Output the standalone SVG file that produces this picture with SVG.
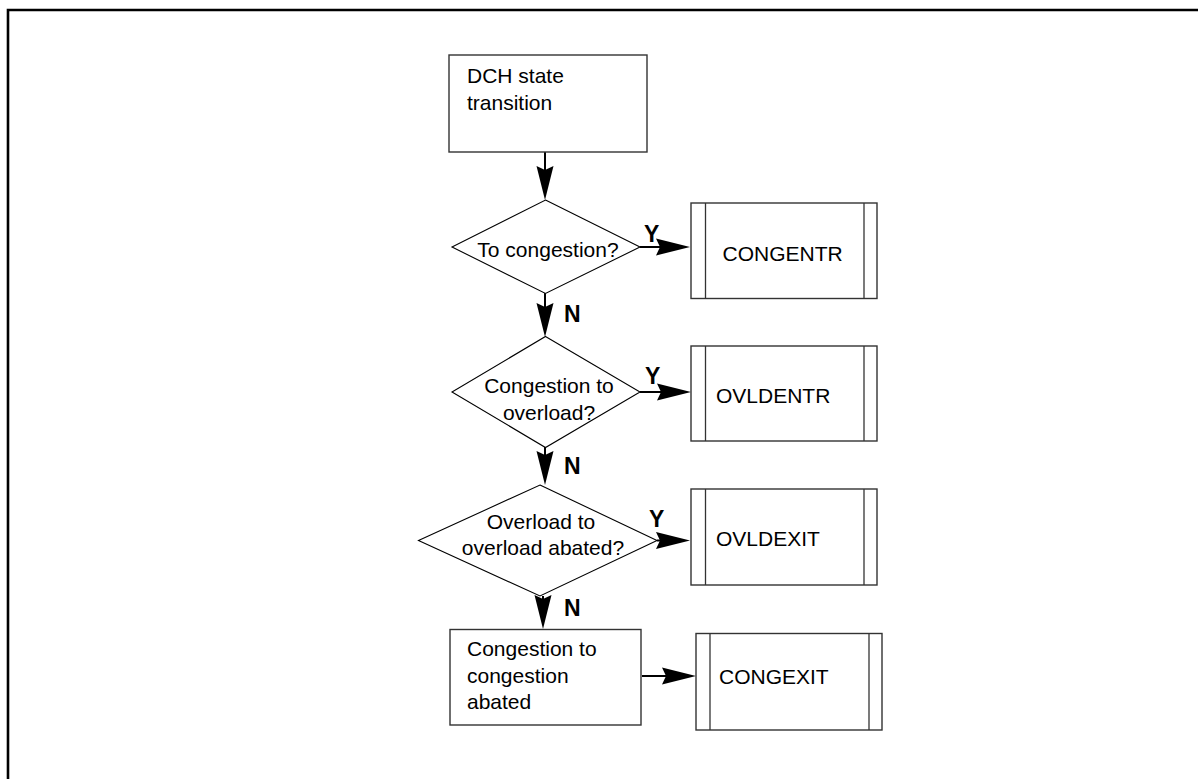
<svg xmlns="http://www.w3.org/2000/svg" width="1198" height="779" viewBox="0 0 1198 779">
  <style>
    .box { fill: #ffffff; stroke: #333333; stroke-width: 1.4; }
    .dec { fill: #ffffff; stroke: #000000; stroke-width: 1.1; }
    .bar { stroke: #333333; stroke-width: 1.3; }
    .txt { font-family: "Liberation Sans", Arial, sans-serif; font-size: 21px; fill: #000000; }
    .mid { text-anchor: middle; }
    .lbl { font-family: "Liberation Sans", Arial, sans-serif; font-size: 23px; font-weight: bold; fill: #000000; }
    .flow { fill: none; stroke: #000000; stroke-width: 2; marker-end: url(#head); }
  </style>
  <defs>
    <!-- long narrow flowchart arrowhead; tip sits 20px past the line end -->
    <marker id="head" markerUnits="userSpaceOnUse" markerWidth="36" markerHeight="18"
            refX="14" refY="8.5" orient="auto" overflow="visible">
      <path d="M0,0 L34,8.5 L0,17 L4,8.5 Z" fill="#000000"/>
    </marker>
  </defs>

  <rect width="1198" height="779" fill="#ffffff"/>
  <!-- page frame -->
  <path d="M8,779 V10 H1198" fill="none" stroke="#000000" stroke-width="2.6"/>

  <g id="connectors">
    <line class="flow" x1="545" y1="152" x2="545" y2="180"/>
    <line class="flow" x1="640" y1="247" x2="670" y2="247"/>
    <line class="flow" x1="545" y1="293" x2="545" y2="317"/>
    <line class="flow" x1="640" y1="392" x2="671" y2="392"/>
    <line class="flow" x1="545" y1="447" x2="545" y2="465"/>
    <line class="flow" x1="657" y1="540.5" x2="670" y2="540.5"/>
    <line class="flow" x1="543" y1="596" x2="543" y2="609"/>
    <line class="flow" x1="642" y1="676" x2="676" y2="676"/>
  </g>

  <g id="dch-state-transition">
    <rect class="box" x="449" y="55" width="198" height="97"/>
    <text class="txt" x="467" y="83">DCH state</text>
    <text class="txt" x="467" y="110">transition</text>
  </g>

  <g id="to-congestion">
    <polygon class="dec" points="545.5,200 640,247 545.5,293.5 452,247"/>
    <text class="txt mid" x="548" y="257">To congestion?</text>
  </g>

  <g id="congestion-to-overload">
    <polygon class="dec" points="545.5,336.5 640,392 545.5,447.5 452,392"/>
    <text class="txt mid" x="549" y="393">Congestion to</text>
    <text class="txt mid" x="549" y="420">overload?</text>
  </g>

  <g id="overload-to-abated">
    <polygon class="dec" points="540,485 657,540.5 540,596 418.5,540.5"/>
    <text class="txt mid" x="541" y="529">Overload to</text>
    <text class="txt mid" x="543" y="555">overload abated?</text>
  </g>

  <g id="congestion-to-abated">
    <rect class="box" x="450" y="629.5" width="191" height="95.5"/>
    <text class="txt" x="467" y="656">Congestion to</text>
    <text class="txt" x="467" y="682.5">congestion</text>
    <text class="txt" x="467" y="708.5">abated</text>
  </g>

  <g id="congentr">
    <rect class="box" x="691" y="203" width="186" height="95.5"/>
    <line class="bar" x1="705.5" y1="203" x2="705.5" y2="298.5"/>
    <line class="bar" x1="864" y1="203" x2="864" y2="298.5"/>
    <text class="txt" x="722.5" y="261">CONGENTR</text>
  </g>

  <g id="ovldentr">
    <rect class="box" x="691" y="346" width="186" height="95"/>
    <line class="bar" x1="705.5" y1="346" x2="705.5" y2="441"/>
    <line class="bar" x1="864" y1="346" x2="864" y2="441"/>
    <text class="txt" x="716" y="403">OVLDENTR</text>
  </g>

  <g id="ovldexit">
    <rect class="box" x="691" y="489" width="186" height="96"/>
    <line class="bar" x1="705.5" y1="489" x2="705.5" y2="585"/>
    <line class="bar" x1="864" y1="489" x2="864" y2="585"/>
    <text class="txt" x="716" y="546">OVLDEXIT</text>
  </g>

  <g id="congexit">
    <rect class="box" x="696" y="633.5" width="186" height="96.5"/>
    <line class="bar" x1="710" y1="633.5" x2="710" y2="730"/>
    <line class="bar" x1="869" y1="633.5" x2="869" y2="730"/>
    <text class="txt" x="719" y="684">CONGEXIT</text>
  </g>

  <g id="branch-labels">
    <text class="lbl" x="644" y="242">Y</text>
    <text class="lbl" x="564" y="322">N</text>
    <text class="lbl" x="645" y="384">Y</text>
    <text class="lbl" x="564" y="474">N</text>
    <text class="lbl" x="649" y="527">Y</text>
    <text class="lbl" x="564" y="616">N</text>
  </g>
</svg>
